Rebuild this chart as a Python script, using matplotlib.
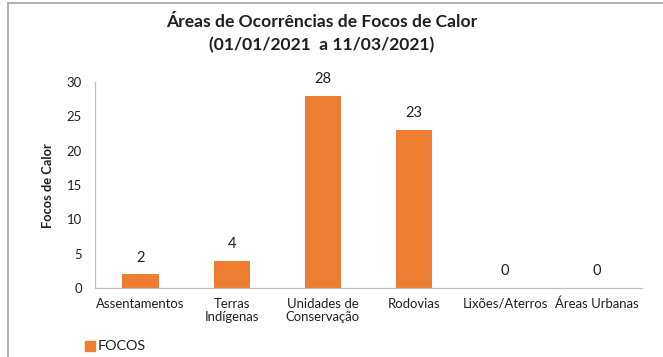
import matplotlib
matplotlib.use("Agg")
import matplotlib.pyplot as plt
from matplotlib.lines import Line2D
from matplotlib.patches import Rectangle

plt.rcParams['font.family'] = ['Lato', 'DejaVu Sans']

categories = ["Assentamentos", "Terras\nIndígenas", "Unidades de\nConservação",
              "Rodovias", "Lixões/Aterros", "Áreas Urbanas"]
focos = [2, 4, 28, 23, 0, 0]
yticks = [0, 5, 10, 15, 20, 25, 30]

orange = "#ED7D31"
axis_gray = "#BFBFBF"
text_c = "#1F1F1F"

W, H = 663, 357
fig = plt.figure(figsize=(W / 100, H / 100), dpi=100)
renderer = fig.canvas.get_renderer()


def size_for(s, target_px, weight="normal"):
    """Font size (pt) that makes string s span target_px pixels wide."""
    t = fig.text(0, 0, s, fontsize=10, fontweight=weight)
    w = t.get_window_extent(renderer).width
    t.remove()
    return 10 * target_px / w


tick_fs = size_for("Assentamentos", 89)
value_fs = size_for("28", 17)
title_fs = size_for("Áreas de Ocorrências de Focos de Calor", 311, "bold")
ylab_fs = size_for("Focos de Calor", 85, "bold")
legend_fs = size_for("FOCOS", 48)

ax = fig.add_axes([95 / W, 1 - 288 / H, 547 / W, 206 / H])

x = list(range(len(categories)))
ax.bar(x, focos, width=0.40, color=orange, label="FOCOS")
for xi, v in zip(x, focos):
    ax.annotate(str(v), (xi, v), xytext=(0, 7), textcoords="offset points",
                ha="center", va="bottom", fontsize=value_fs, color=text_c)

ax.set_xlim(-0.5, len(categories) - 0.5)
ax.set_ylim(0, 30)
ax.set_yticks(yticks)
ax.set_xticks(x)
ax.set_xticklabels(categories, linespacing=1.15)
ax.tick_params(axis="both", length=0, labelsize=tick_fs, colors=text_c)
ax.tick_params(axis="x", pad=7)
ax.tick_params(axis="y", pad=9.5)
for side in ("top", "right"):
    ax.spines[side].set_visible(False)
for side in ("left", "bottom"):
    ax.spines[side].set_color(axis_gray)
    ax.spines[side].set_linewidth(0.9)

ax.set_ylabel("Focos de Calor", fontsize=ylab_fs, fontweight="bold", color=text_c)
ax.yaxis.set_label_coords((54 - 95) / 547, (288 - 185.5) / 206)

fig.text(321.5 / W, 1 - 22 / H, "Áreas de Ocorrências de Focos de Calor",
         ha="center", va="center", fontsize=title_fs, fontweight="bold", color=text_c)
fig.text(321.5 / W, 1 - 45 / H, "(01/01/2021  a 11/03/2021)",
         ha="center", va="center", fontsize=title_fs, fontweight="bold", color=text_c)

# legend
fig.patches.append(Rectangle((85 / W, 1 - 351 / H), 10 / W, 10 / H,
                             transform=fig.transFigure, color=orange))
fig.text(98 / W, 1 - 346 / H, "FOCOS", ha="left", va="center",
         fontsize=legend_fs, color=text_c)

# chart frame
frame_c = "#A6A6A6"
fig.add_artist(Line2D([8 / W, 1], [1 - 3 / H, 1 - 3 / H],
                      transform=fig.transFigure, color=frame_c, lw=1.2))
fig.add_artist(Line2D([8 / W, 8 / W], [0, 1 - 3 / H],
                      transform=fig.transFigure, color=frame_c, lw=1.2))

fig.savefig("out.png", dpi=100)
